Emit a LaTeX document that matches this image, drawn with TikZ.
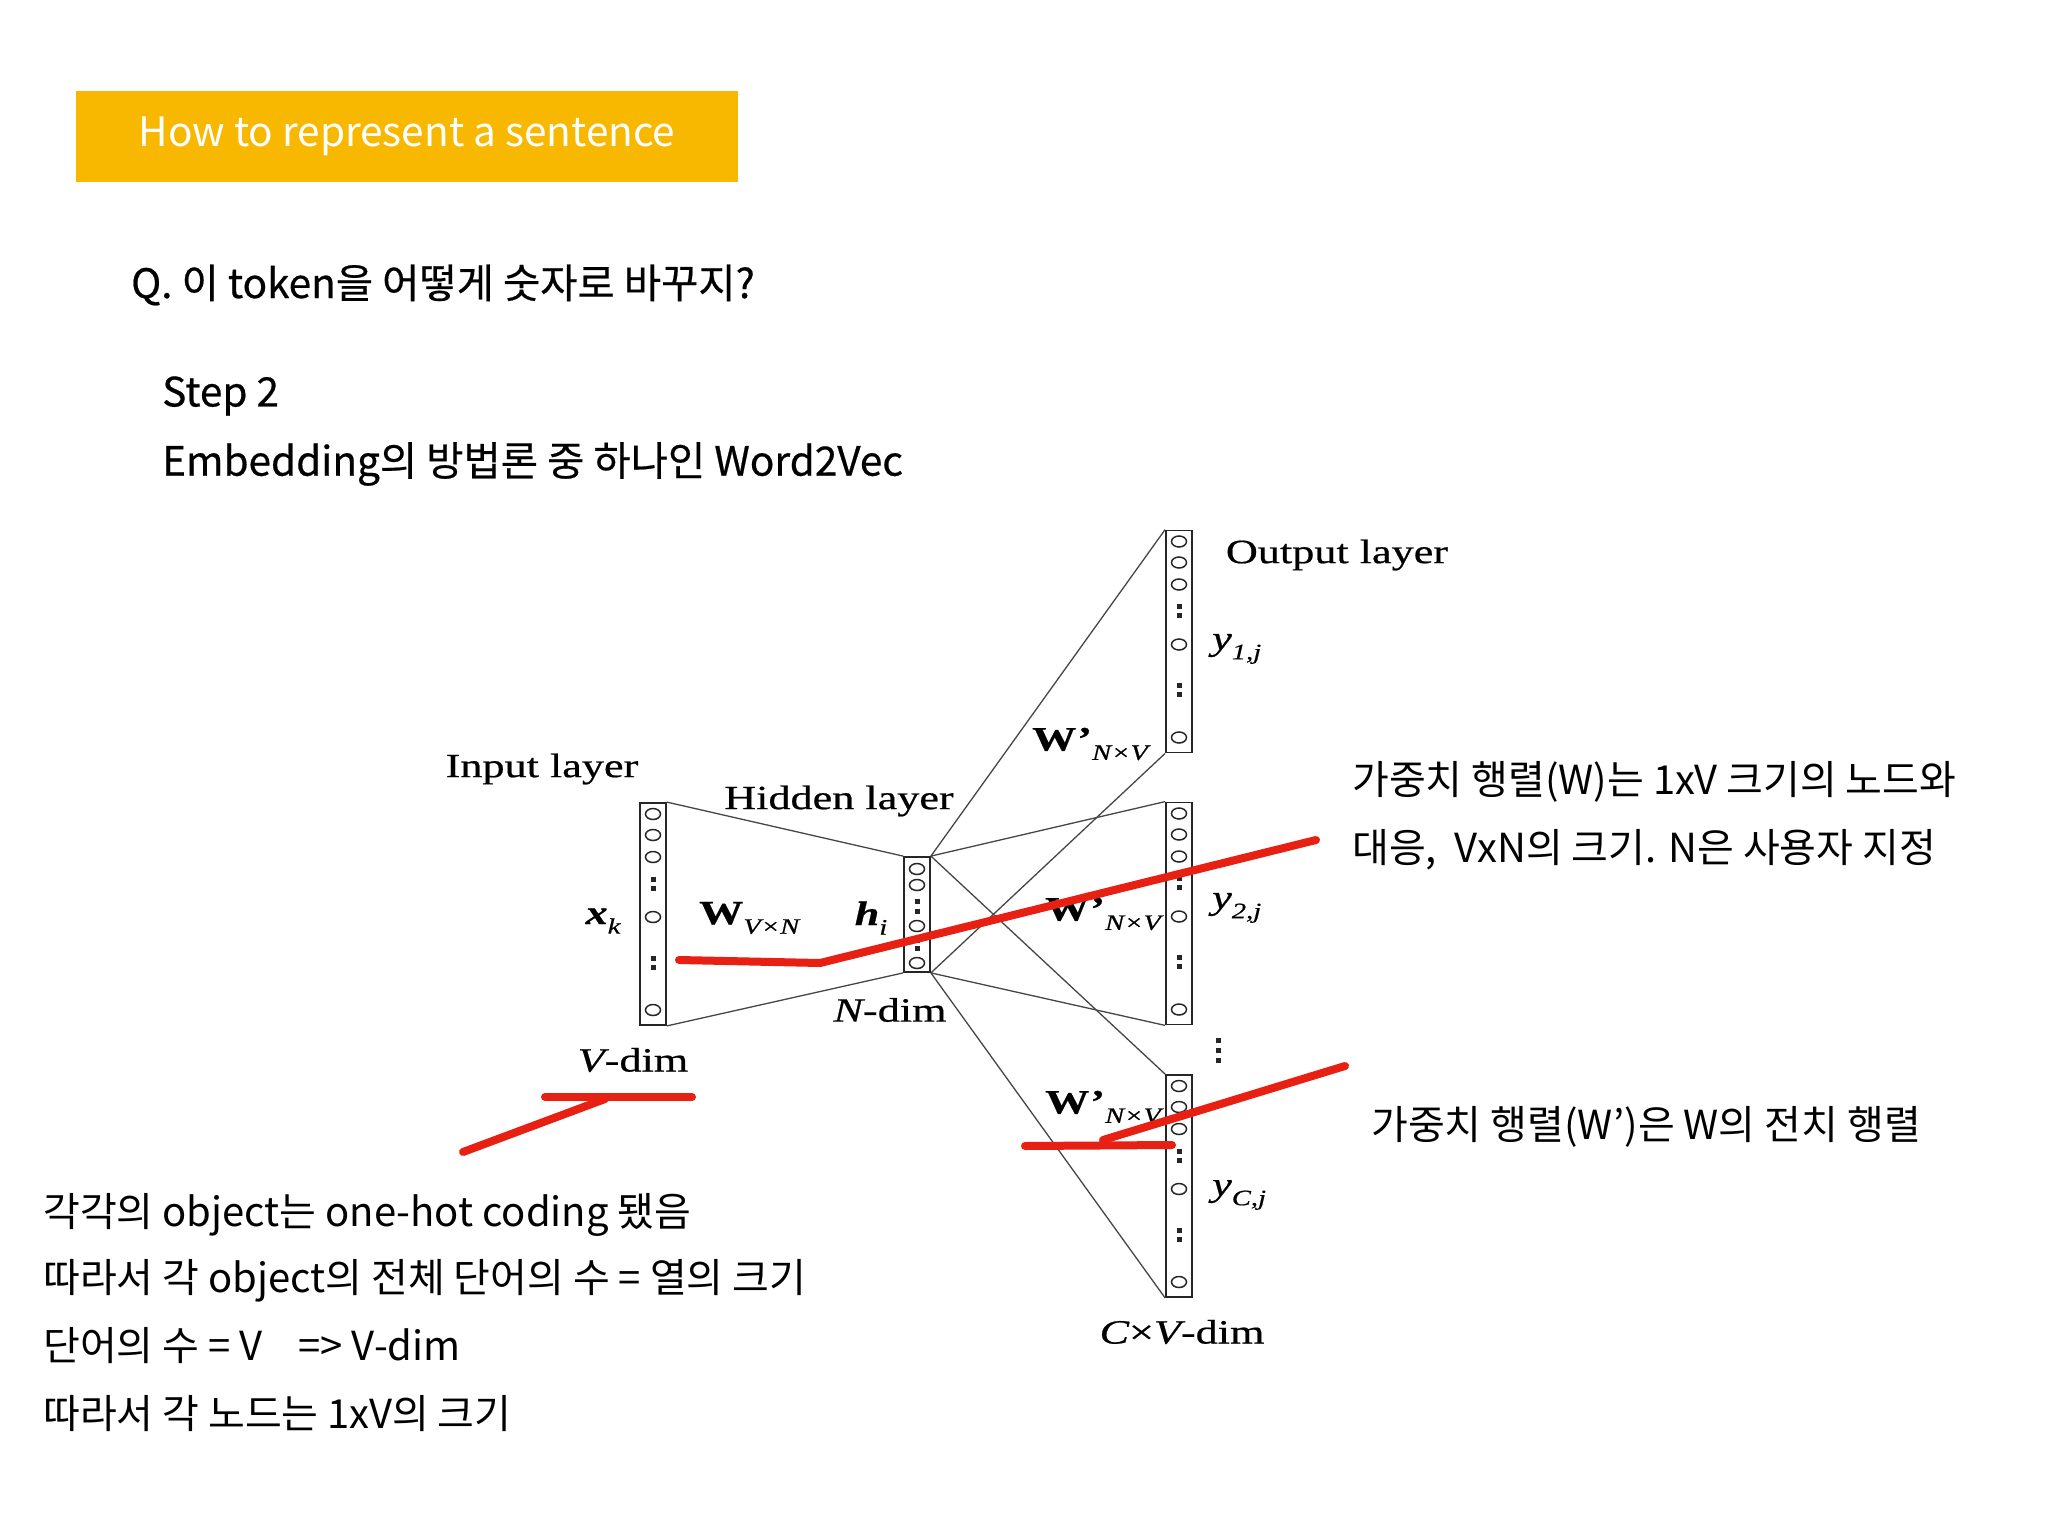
\documentclass[tikz,border=0pt]{standalone}
\usepackage{fontspec}
\setmainfont{Noto Sans CJK KR}
\newfontfamily\headfont[FakeBold=0.5]{Noto Sans CJK KR}
\newfontfamily\diagfont[FakeStretch=1.3, FakeBold=0.6]{Liberation Serif}

\definecolor{titleyellow}{RGB}{248,184,0}
\definecolor{penred}{RGB}{232,32,20}
\definecolor{wiregray}{RGB}{70,70,70}

% small italic index for the layer labels
\newcommand{\lsub}[1]{\raisebox{-0.28em}{\fontsize{22}{24}\selectfont\itshape #1}}

\tikzset{
  titlebox/.style={fill=titleyellow, text=white, inner sep=0,
    minimum width=662, minimum height=91, font=\fontsize{40.5}{48}\selectfont},
  headtext/.style={inner sep=0, anchor=west, font=\headfont\fontsize{40.5}{48}\selectfont},
  note/.style={inner sep=0, anchor=west, font=\fontsize{40}{48}\selectfont},
  dlabel/.style={inner sep=0, font=\diagfont\fontsize{34}{40}\selectfont},
  layerbox/.style={draw=black!85, line width=1.8, inner sep=0, minimum width=26},
  wire/.style={draw=wiregray, line width=1.3},
  unit/.style={draw=black!85, line width=1.5},
  pen/.style={draw=penred, line width=8, line cap=round, line join=round}
}

\begin{document}
\begin{tikzpicture}[x=1pt,y=-1pt]
    \useasboundingbox (0,0) rectangle (2048,1536);
    \fill[white] (0,0) rectangle (2048,1536);

    % Heading
    \node[titlebox] (title) at (407,136.5) {How to represent a sentence};
    \node[headtext] (q) at (131,285) {Q. 이 token을 어떻게 숫자로 바꾸지?};
    \node[headtext] (step) at (162,396) {Step 2};
    \node[headtext] (emb) at (162,464) {Embedding의 방법론 중 하나인 Word2Vec};

    % Layers
    \node[layerbox, minimum height=222] (in) at (653,914) {};
    \node[layerbox, minimum height=115] (hid) at (917,914.5) {};
    \node[layerbox, minimum height=222] (out1) at (1179,641.5) {};
    \node[layerbox, minimum height=222] (out2) at (1179,913.5) {};
    \node[layerbox, minimum height=222] (out3) at (1179,1186) {};

    \foreach \bx/\by in {653/803, 1179/530.5, 1179/802.5, 1179/1075} {
        \foreach \dy in {11,32,54,114,207}
            \draw[unit] (\bx,\by+\dy) ellipse (7.5 and 5.5);
        \foreach \dy in {76,85,155,164}
            \fill[black!85] (\bx-2.5,\by+\dy-2.5) rectangle ++(5,5);
    }
    \foreach \dy in {12,28,69,106}
        \draw[unit] (917,857+\dy) ellipse (7.5 and 5.5);
    \foreach \dy in {44,54,83,91}
        \fill[black!85] (914.5,857+\dy-2.5) rectangle ++(5,5);

    % dots between output layers
    \foreach \y in {1040,1050,1060}
        \fill[black!85] (1215.5,\y-2.5) rectangle ++(5,5);

    % Weights
    \draw[wire] (in.north east) -- (hid.north west);
    \draw[wire] (in.south east) -- (hid.south west);
    \foreach \o in {out1,out2,out3} {
        \draw[wire] (hid.north east) -- (\o.north west);
        \draw[wire] (hid.south east) -- (\o.south west);
    }

    % Labels
    \node[dlabel] (inlab) at (542,769) {Input layer};
    \node[dlabel] (hidlab) at (839,801) {Hidden layer};
    \node[dlabel] (outlab) at (1337,555) {Output layer};
    \node[dlabel] (xk) at (603,921) {{\bfseries\itshape x}\lsub{k}};
    \node[dlabel, anchor=west] (wvn) at (699,918) {{\bfseries W}\lsub{V×N}};
    \node[dlabel] (hi) at (871,918) {{\bfseries\itshape h}\lsub{i}};
    \node[dlabel] (ndim) at (890,1010) {{\itshape N}-dim};
    \node[dlabel] (vdim) at (633,1060) {{\itshape V}-dim};
    \node[dlabel, anchor=west] (wnv1) at (1032,744) {{\bfseries W\kern1pt’}\lsub{N×V}};
    \node[dlabel, anchor=west] (wnv2) at (1045,914) {{\bfseries W\kern1pt’}\lsub{N×V}};
    \node[dlabel, anchor=west] (wnv3) at (1045,1107) {{\bfseries W\kern1pt’}\lsub{N×V}};
    \node[dlabel, anchor=west] (y1) at (1212,649) {{\itshape y}\lsub{1,j}};
    \node[dlabel, anchor=west] (y2) at (1212,908) {{\itshape y}\lsub{2,j}};
    \node[dlabel, anchor=west] (yc) at (1212,1195) {{\itshape y}\lsub{C,j}};
    \node[dlabel] (cvdim) at (1182,1332) {{\itshape C}×{\itshape V}-dim};

    % Red pen marks
    \draw[pen] (679,960) -- (820,963) -- (1316,840);
    \draw[pen] (463,1152) -- (605,1099);
    \draw[pen] (545,1097) -- (692,1097);
    \draw[pen] (1345,1066) -- (1103,1140);
    \draw[pen] (1025,1146) -- (1172,1145);

    % Notes
    \node[note] (w1) at (1352,782) {가중치 행렬(W)는 1xV 크기의 노드와};
    \node[note] (w2) at (1352,850) {대응,~ VxN의 크기. N은 사용자 지정};
    \node[note] (w3) at (1371,1127) {가중치 행렬(W’)은 W의 전치 행렬};

    \node[note] (b1) at (43,1215) {각각의 object는 one-hot coding 됐음};
    \node[note] (b2) at (43,1281) {따라서 각 object의 전체 단어의 수 = 열의 크기};
    \node[note] (b3) at (43,1346) {단어의 수 = V\hspace{0.9em}=> V-dim};
    \node[note] (b4) at (43,1414) {따라서 각 노드는 1xV의 크기};
\end{tikzpicture}
\end{document}
